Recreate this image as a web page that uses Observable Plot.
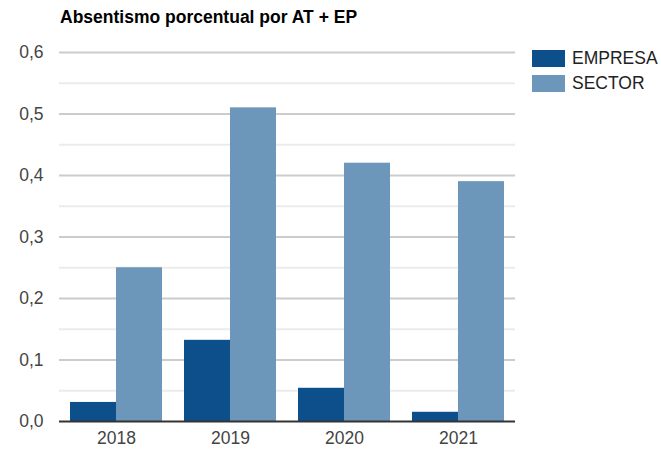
<!DOCTYPE html>
<html>
<head>
<meta charset="utf-8">
<script src="https://cdn.jsdelivr.net/npm/d3@7"></script>
<script src="https://cdn.jsdelivr.net/npm/@observablehq/plot@0.6"></script>
<style>
  body { margin: 0; background: #fff; font-family: "Liberation Sans", Arial, sans-serif; }
  #wrap { position: relative; width: 661px; height: 452px; }
  #title { height: 35px; line-height: 35px; padding-left: 60px; font-weight: bold; font-size: 17.5px; color: #000; }
  #legend { position: absolute; left: 532px; top: 50px; font-size: 17.5px; color: #222; }
  .item { display: flex; align-items: center; height: 17px; margin-bottom: 8px; }
  .sw { width: 33px; height: 17px; margin-right: 7px; }
</style>
</head>
<body>
<div id="wrap">
  <div id="title">Absentismo porcentual por AT + EP</div>
  <div id="chart"></div>
  <div id="legend"></div>
</div>
<script>
const years = ["2018", "2019", "2020", "2021"];
const series = ["EMPRESA", "SECTOR"];
const empresa = [0.031, 0.132, 0.054, 0.015];
const sector = [0.25, 0.51, 0.42, 0.39];
const colors = ["#0c4f8b", "#6d96bb"];
const majorTicks = [0, 0.1, 0.2, 0.3, 0.4, 0.5, 0.6];
const minorTicks = [0.05, 0.15, 0.25, 0.35, 0.45, 0.55];

const data = [];
years.forEach((y, i) => {
  data.push({year: y, series: series[0], value: empresa[i]});
  data.push({year: y, series: series[1], value: sector[i]});
});

const fmt = d => d3.format(".1f")(d).replace(".", ",");

const chart = Plot.plot({
  width: 661,
  height: 417,
  marginTop: 17,
  marginBottom: 31,
  marginLeft: 59,
  marginRight: 146,
  style: {fontFamily: "Liberation Sans, Arial, sans-serif", fontSize: "17.5px", color: "#444", background: "#fff"},
  fx: {domain: years, padding: 0, label: null, axis: "bottom", tickSize: 0, tickPadding: 10},
  x: {domain: series, axis: null, paddingInner: 0.01, paddingOuter: 0.24},
  y: {domain: [0, 0.6], ticks: majorTicks, tickFormat: fmt, tickSize: 0, tickPadding: 16, label: null},
  color: {domain: series, range: colors},
  marks: [
    Plot.ruleY(minorTicks, {stroke: "#ebebeb", strokeWidth: 2}),
    Plot.ruleY(majorTicks.slice(1), {stroke: "#cccccc", strokeWidth: 2}),
    Plot.barY(data, {fx: "year", x: "series", y: "value", fill: "series"}),
    Plot.ruleY([0], {stroke: "#333", strokeWidth: 2})
  ]
});
document.getElementById("chart").appendChild(chart);

const legend = document.getElementById("legend");
series.forEach((s, i) => {
  const it = document.createElement("div");
  it.className = "item";
  it.innerHTML = `<div class="sw" style="background:${colors[i]}"></div><span>${s}</span>`;
  legend.appendChild(it);
});
</script>
</body>
</html>
